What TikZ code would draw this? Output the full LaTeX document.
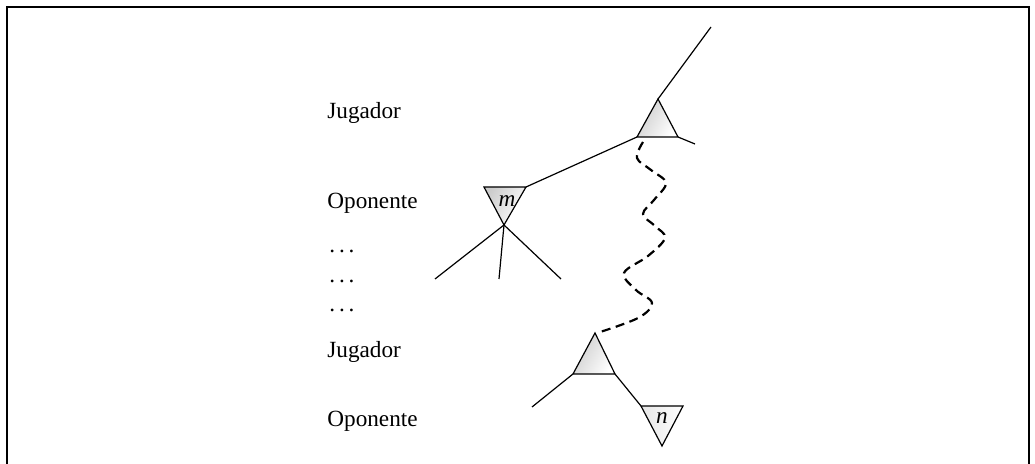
\documentclass[tikz,border=0pt]{standalone}
\usepackage{fontspec}
\setmainfont{Liberation Serif}
\begin{document}
\begin{tikzpicture}[x=0.5pt,y=-0.5pt,
  edge/.style={line width=0.6pt},
  tri/.style={line width=0.6pt, left color=gray!40, right color=white, shading angle=60},
  lbl/.style={anchor=west, inner sep=0pt, font=\fontsize{11.6pt}{13pt}\selectfont},
  dots/.style={anchor=west, inner sep=0pt, font=\fontsize{11.6pt}{13pt}\selectfont},
  wavy/.style={line width=1.1pt, dash pattern=on 4.5pt off 2.8pt}]
\useasboundingbox (0,0) rectangle (1035,464);
\draw[line width=0.6pt] (7,464) -- (7,7) -- (1029,7) -- (1029,464);
% labels
\node[lbl] (l1) at (327,113) {Jugador};
\node[lbl] (l2) at (327,203) {Oponente};
\node[dots] (d1) at (329,251) {.\,.\,.};
\node[dots] (d2) at (329,281) {.\,.\,.};
\node[dots] (d3) at (329,310) {.\,.\,.};
\node[lbl] (l3) at (327,352) {Jugador};
\node[lbl] (l4) at (327,421) {Oponente};
% coordinates
\coordinate (top) at (711,27);
\coordinate (A) at (658,99);
\coordinate (AL) at (637,137);
\coordinate (AR) at (678,137);
\coordinate (ARx) at (695,144);
\coordinate (ML) at (484,187);
\coordinate (MR) at (526,187);
\coordinate (MB) at (504,225);
\coordinate (m1) at (435,279);
\coordinate (m2) at (499,279);
\coordinate (m3) at (561,279);
\coordinate (B) at (595,333);
\coordinate (BL) at (573,374);
\coordinate (BR) at (615,374);
\coordinate (BLx) at (532,407);
\coordinate (NL) at (641,406);
\coordinate (NR) at (683,406);
\coordinate (NB) at (662,446);
% triangles
\path[tri] (A) -- (AL) -- (AR) -- cycle;
\draw[edge] (A) -- (AL) -- (AR) -- cycle;
\path[tri] (ML) -- (MR) -- (MB) -- cycle;
\draw[edge] (ML) -- (MR) -- (MB) -- cycle;
\path[tri] (B) -- (BL) -- (BR) -- cycle;
\draw[edge] (B) -- (BL) -- (BR) -- cycle;
\path[tri, left color=gray!20] (NL) -- (NR) -- (NB) -- cycle;
\draw[edge] (NL) -- (NR) -- (NB) -- cycle;
\node[inner sep=0pt, font=\fontsize{11.6pt}{13pt}\selectfont\itshape] (m) at (507,201) {m};
\node[inner sep=0pt, font=\fontsize{11.6pt}{13pt}\selectfont\itshape] (n) at (662,418) {n};
% edges
\draw[edge] (top) -- (A);
\draw[edge] (AR) -- (ARx);
\draw[edge] (AL) -- (MR);
\draw[edge] (MB) -- (m1);
\draw[edge] (MB) -- (m2);
\draw[edge] (MB) -- (m3);
\draw[edge] (BL) -- (BLx);
\draw[edge] (BR) -- (NL);
% wavy dashed path
\draw[wavy] plot[smooth, tension=0.6] coordinates {(643,142) (637,158) (651,170) (666,183) (654,200) (643,214) (655,226) (665,238) (648,256) (624,273) (636,290) (652,303) (638,318) (597,333)};
\end{tikzpicture}
\end{document}
